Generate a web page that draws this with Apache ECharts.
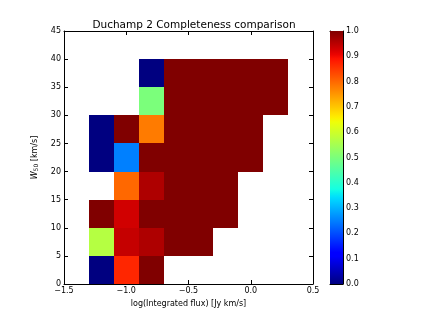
<!DOCTYPE html>
<html><head><meta charset="utf-8">
<script src="https://cdn.jsdelivr.net/npm/echarts@6/dist/echarts.min.js"></script>
<style>html,body{margin:0;padding:0;background:#fff}#c{width:421px;height:316px}</style>
</head><body><div id="c"></div>
<script>
// Bin left edges
const xEdges = [-1.3, -1.1, -0.9, -0.7, -0.5, -0.3, -0.1, 0.1];
const yEdges = [0, 5, 10, 15, 20, 25, 30, 35];
const xBinWidth = 0.2;
const yBinWidth = 5;
// Completeness per row (y bin), columns follow xEdges; null = empty
const row0  = [0.0, 0.87, 1.0, null, null, null, null, null];
const row5  = [0.57, 0.94, 0.96, 1.0, 1.0, null, null, null];
const row10 = [1.0, 0.93, 1.0, 1.0, 1.0, 1.0, null, null];
const row15 = [null, 0.80, 0.96, 1.0, 1.0, 1.0, null, null];
const row20 = [0.0, 0.25, 1.0, 1.0, 1.0, 1.0, 1.0, null];
const row25 = [0.0, 1.0, 0.78, 1.0, 1.0, 1.0, 1.0, null];
const row30 = [null, null, 0.50, 1.0, 1.0, 1.0, 1.0, 1.0];
const row35 = [null, null, 0.0, 1.0, 1.0, 1.0, 1.0, 1.0];
const rows = [row0, row5, row10, row15, row20, row25, row30, row35];
const xTicks = [-1.5, -1.0, -0.5, 0.0, 0.5];
const yTicks = [0, 5, 10, 15, 20, 25, 30, 35, 40, 45];
const cbTicks = [0, 0.1, 0.2, 0.3, 0.4, 0.5, 0.6, 0.7, 0.8, 0.9, 1.0];

function interp(v, pts){
  for (let i=1;i<pts.length;i++){
    if (v <= pts[i][0]) {
      const a=pts[i-1], b=pts[i];
      return a[1] + (b[1]-a[1])*(v-a[0])/(b[0]-a[0]);
    }
  }
  return pts[pts.length-1][1];
}
function jet(v){
  v = Math.max(0, Math.min(1, v));
  const r = interp(v, [[0,0],[0.35,0],[0.66,1],[0.89,1],[1,0.5]]);
  const g = interp(v, [[0,0],[0.125,0],[0.375,1],[0.64,1],[0.91,0],[1,0]]);
  const b = interp(v, [[0,0.5],[0.11,1],[0.34,1],[0.65,0],[1,0]]);
  return 'rgb(' + Math.round(r*255) + ',' + Math.round(g*255) + ',' + Math.round(b*255) + ')';
}

const cells = [];
rows.forEach((row, i) => {
  row.forEach((v, j) => {
    if (v !== null) cells.push([xEdges[j], yEdges[i], v]);
  });
});

const gradStops = [];
for (let k=0;k<=64;k++){ gradStops.push({offset: k/64, color: jet(1 - k/64)}); }

const fontFam = 'DejaVu Sans';
const fmtX = v => (v < 0 ? '\u2212' : '') + Math.abs(v).toFixed(1);
const line = {show: true, onZero: false, lineStyle: {color: '#000', width: 1}};

const chart = echarts.init(document.getElementById('c'), null, {renderer: 'canvas'});
chart.setOption({
  animation: false,
  title: {
    text: 'Duchamp 2 Completeness comparison',
    left: 189, top: 15, textAlign: 'center',
    textStyle: {fontFamily: fontFam, fontSize: 10.5, fontWeight: 'normal', color: '#000'}
  },
  grid: [
    {left: 64, top: 31, width: 249, height: 253},
    {left: 330, top: 31, width: 13, height: 253}
  ],
  xAxis: [
    {gridIndex: 0, type: 'value', min: -1.5, max: 0.5, interval: 0.5,
     name: 'log(Integrated flux) [Jy km/s]', nameLocation: 'middle', nameGap: 15,
     nameTextStyle: {fontFamily: fontFam, fontSize: 8, color: '#000'},
     axisLine: line,
     axisTick: {show: true, inside: true, length: 4, lineStyle: {color: '#000'}},
     axisLabel: {fontFamily: fontFam, fontSize: 8, color: '#000', margin: 3, formatter: fmtX},
     splitLine: {show: false}},
    {gridIndex: 0, type: 'value', position: 'top', min: -1.5, max: 0.5, interval: 0.5,
     axisLine: line,
     axisTick: {show: true, inside: true, length: 4, lineStyle: {color: '#000'}},
     axisLabel: {show: false}, splitLine: {show: false}},
    {gridIndex: 1, type: 'value', min: 0, max: 1, show: true,
     axisLine: line, axisTick: {show: false}, axisLabel: {show: false}, splitLine: {show: false}},
    {gridIndex: 1, type: 'value', position: 'top', min: 0, max: 1, show: true,
     axisLine: line, axisTick: {show: false}, axisLabel: {show: false}, splitLine: {show: false}}
  ],
  yAxis: [
    {gridIndex: 0, type: 'value', min: 0, max: 45, interval: 5,
     name: '{w|W}{s|50} [km/s]', nameLocation: 'middle', nameGap: 14, nameRotate: 90,
     nameTextStyle: {fontFamily: fontFam, fontSize: 8, color: '#000',
       rich: {w: {fontFamily: fontFam, fontSize: 8, fontStyle: 'italic', color: '#000'},
              s: {fontFamily: fontFam, fontSize: 6, color: '#000', padding: [4, 0, 0, 0]}}},
     axisLine: line,
     axisTick: {show: true, inside: true, length: 4, lineStyle: {color: '#000'}},
     axisLabel: {fontFamily: fontFam, fontSize: 8, color: '#000', margin: 3},
     splitLine: {show: false}},
    {gridIndex: 0, type: 'value', position: 'right', min: 0, max: 45, interval: 5,
     axisLine: line,
     axisTick: {show: true, inside: true, length: 4, lineStyle: {color: '#000'}},
     axisLabel: {show: false}, splitLine: {show: false}},
    {gridIndex: 1, type: 'value', position: 'right', min: 0, max: 1, interval: 0.1,
     axisLine: line,
     axisTick: {show: true, inside: true, length: 3, lineStyle: {color: '#000'}},
     axisLabel: {fontFamily: fontFam, fontSize: 8, color: '#000', margin: 3, formatter: v => v.toFixed(1)},
     splitLine: {show: false}},
    {gridIndex: 1, type: 'value', position: 'left', min: 0, max: 1, show: true,
     axisLine: line, axisTick: {show: false}, axisLabel: {show: false}, splitLine: {show: false}}
  ],
  series: [
    {type: 'custom', xAxisIndex: 0, yAxisIndex: 0, data: cells, clip: true,
     renderItem: function(params, api){
       const x = api.value(0), y = api.value(1), v = api.value(2);
       const p1 = api.coord([x, y + yBinWidth]);
       const p2 = api.coord([x + xBinWidth, y]);
       const x1 = Math.round(p1[0]), y1 = Math.round(p1[1]);
       const x2 = Math.round(p2[0]), y2 = Math.round(p2[1]);
       return {type: 'rect', shape: {x: x1, y: y1, width: x2 - x1, height: y2 - y1},
               style: {fill: jet(v), stroke: null, lineWidth: 0}};
     }},
    {type: 'custom', xAxisIndex: 2, yAxisIndex: 2, data: [[0, 0]], z: 1,
     renderItem: function(params, api){
       const p1 = api.coord([0, 1]);
       const p2 = api.coord([1, 0]);
       return {type: 'rect', shape: {x: p1[0], y: p1[1], width: p2[0]-p1[0], height: p2[1]-p1[1]},
               style: {fill: new echarts.graphic.LinearGradient(0, 0, 0, 1, gradStops)}};
     }}
  ]
});
</script></body></html>
